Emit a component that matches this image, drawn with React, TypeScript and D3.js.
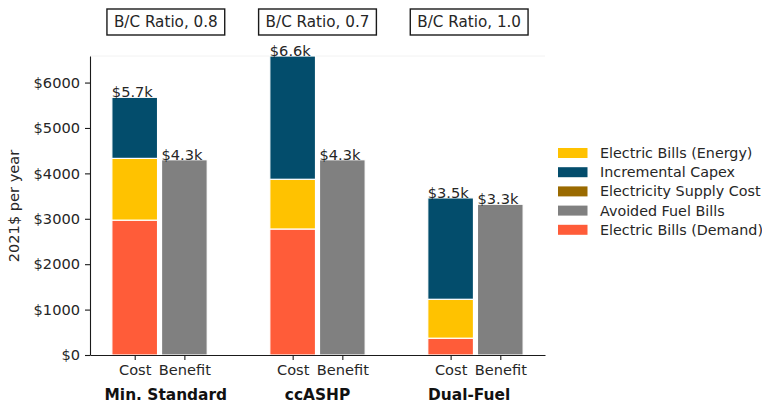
import React, { useEffect, useRef } from "react";
import * as d3 from "d3";

// Annual cost vs. benefit per heating option (2021$)
const groups = ["Min. Standard", "ccASHP", "Dual-Fuel"];
const bcRatios = [0.8, 0.7, 1.0];
const demandBills = [2970, 2775, 370];
const energyBills = [1360, 1095, 857];
const supplyCost = [0, 0, 0];
const capex = [1345, 2715, 2233];
const avoidedFuel = [4300, 4300, 3320];
const yTicks = [0, 1000, 2000, 3000, 4000, 5000, 6000];

const COLORS: Record<string, string> = {
  demand: "#ff5c39",
  energy: "#ffc200",
  supply: "#9a6a00",
  capex: "#034d6c",
  avoided: "#808080",
};

const legendItems = [
  { key: "energy", label: "Electric Bills (Energy)" },
  { key: "capex", label: "Incremental Capex" },
  { key: "supply", label: "Electricity Supply Cost" },
  { key: "avoided", label: "Avoided Fuel Bills" },
  { key: "demand", label: "Electric Bills (Demand)" },
];

const W = 762;
const H = 404;
const FONT = "DejaVu Sans, sans-serif";
const FS = 14.6;
const TXT = "#262626";

export default function App() {
  const ref = useRef<SVGSVGElement | null>(null);

  useEffect(() => {
    const svg = d3.select(ref.current);
    svg.selectAll("*").remove();

    const left = 90;
    const right = 545;
    const top = 56;
    const bottom = 355;
    const groupStep = 3.18;
    const barW = 0.92;

    const rows = groups.map((g, i) => ({
      group: g,
      demand: demandBills[i],
      energy: energyBills[i],
      supply: supplyCost[i],
      capex: capex[i],
    }));
    const stackKeys = ["demand", "energy", "supply", "capex"];
    const series = d3.stack<any>().keys(stackKeys)(rows);
    const totals = rows.map((r) => r.demand + r.energy + r.supply + r.capex);

    const x = d3.scaleLinear().domain([-0.9, 8.26]).range([left, right]);
    const y = d3
      .scaleLinear()
      .domain([0, d3.max([...totals, ...avoidedFuel]) as number])
      .range([bottom, top]);
    const bw = x(barW / 2) - x(-barW / 2);

    const costPos = (i: number) => i * groupStep;
    const benPos = (i: number) => i * groupStep + 1;
    const fx = (f: number) => left + (right - left) * f;

    // faint top frame line
    svg
      .append("line")
      .attr("x1", left)
      .attr("x2", right)
      .attr("y1", top)
      .attr("y2", top)
      .attr("stroke", "#f2f2f2")
      .attr("stroke-width", 1);

    // stacked cost bars
    const plot = svg.append("g");
    series.forEach((s) => {
      plot
        .selectAll(null)
        .data(s)
        .enter()
        .append("rect")
        .attr("x", (_d, i) => x(costPos(i)) - bw / 2)
        .attr("width", bw)
        .attr("y", (d) => y(d[1]))
        .attr("height", (d) => Math.max(0, y(d[0]) - y(d[1])))
        .attr("fill", COLORS[s.key])
        .attr("stroke", "#ffffff")
        .attr("stroke-width", 1.2);
    });

    // benefit bars
    plot
      .selectAll(null)
      .data(avoidedFuel)
      .enter()
      .append("rect")
      .attr("x", (_d, i) => x(benPos(i)) - bw / 2)
      .attr("width", bw)
      .attr("y", (d) => y(d))
      .attr("height", (d) => y(0) - y(d))
      .attr("fill", COLORS.avoided)
      .attr("stroke", "#ffffff")
      .attr("stroke-width", 1.2);

    // total labels
    const fmt = (v: number) => `$${(v / 1000).toFixed(1)}k`;
    const labels = svg.append("g").attr("font-family", FONT).attr("font-size", FS).attr("fill", TXT);
    totals.forEach((t, i) => {
      labels
        .append("text")
        .attr("x", x(costPos(i)) - bw / 2)
        .attr("y", y(t))
        .text(fmt(t));
    });
    avoidedFuel.forEach((b, i) => {
      labels
        .append("text")
        .attr("x", x(benPos(i)) - bw / 2)
        .attr("y", y(b))
        .text(fmt(b));
    });

    // axes
    const yAxis = svg
      .append("g")
      .attr("transform", `translate(${left},0)`)
      .call(
        d3
          .axisLeft(y)
          .tickValues(yTicks)
          .tickSize(5)
          .tickSizeOuter(0)
          .tickPadding(5)
          .tickFormat((d) => `$${d}`)
      );
    const xTickVals: number[] = [];
    const xTickText: string[] = [];
    groups.forEach((_g, i) => {
      xTickVals.push(costPos(i), benPos(i));
      xTickText.push("Cost", "Benefit");
    });
    const xAxis = svg
      .append("g")
      .attr("transform", `translate(0,${bottom})`)
      .call(
        d3
          .axisBottom(x)
          .tickValues(xTickVals)
          .tickSize(5)
          .tickSizeOuter(0)
          .tickPadding(5)
          .tickFormat((_d, i) => xTickText[i])
      );
    [yAxis, xAxis].forEach((ax) => {
      ax.attr("font-family", FONT).attr("font-size", FS);
      ax.select(".domain").attr("stroke", "#1a1a1a").attr("stroke-width", 1.1);
      ax.selectAll(".tick line").attr("stroke", "#1a1a1a").attr("stroke-width", 1.1);
      ax.selectAll(".tick text").attr("fill", TXT);
    });

    // y axis title
    svg
      .append("text")
      .attr("transform", `translate(19,206) rotate(-90)`)
      .attr("text-anchor", "middle")
      .attr("font-family", FONT)
      .attr("font-size", FS)
      .attr("fill", TXT)
      .text("2021$ per year");

    // group names and B/C ratio boxes
    groups.forEach((g, i) => {
      const cx = fx(1 / 6 + i / 3);
      svg
        .append("text")
        .attr("x", cx)
        .attr("y", 400)
        .attr("text-anchor", "middle")
        .attr("font-family", FONT)
        .attr("font-size", 15.4)
        .attr("font-weight", "bold")
        .attr("fill", "#111")
        .text(g);

      const boxG = svg.append("g");
      const t = boxG
        .append("text")
        .attr("x", cx)
        .attr("y", 27)
        .attr("text-anchor", "middle")
        .attr("font-family", FONT)
        .attr("font-size", 15.2)
        .attr("fill", TXT)
        .text(`B/C Ratio, ${bcRatios[i].toFixed(1)}`);
      const len = (t.node() as SVGTextElement).getComputedTextLength();
      boxG
        .insert("rect", "text")
        .attr("x", cx - len / 2 - 7)
        .attr("y", 9)
        .attr("width", len + 14)
        .attr("height", 26)
        .attr("fill", "#fff")
        .attr("stroke", "#1a1a1a")
        .attr("stroke-width", 1.4);
    });

    // legend
    const lg = svg.append("g").attr("transform", "translate(558,153)");
    legendItems.forEach((item, i) => {
      const cy = i * 19.2;
      lg.append("rect")
        .attr("x", 0)
        .attr("y", cy - 5)
        .attr("width", 29.5)
        .attr("height", 10)
        .attr("fill", COLORS[item.key]);
      lg.append("text")
        .attr("x", 42)
        .attr("y", cy + 5)
        .attr("font-family", FONT)
        .attr("font-size", 14.3)
        .attr("fill", TXT)
        .text(item.label);
    });
  }, []);

  return (
    <svg
      ref={ref}
      width={W}
      height={H}
      style={{ position: "absolute", left: 0, top: 0, background: "#fff", display: "block" }}
    />
  );
}
